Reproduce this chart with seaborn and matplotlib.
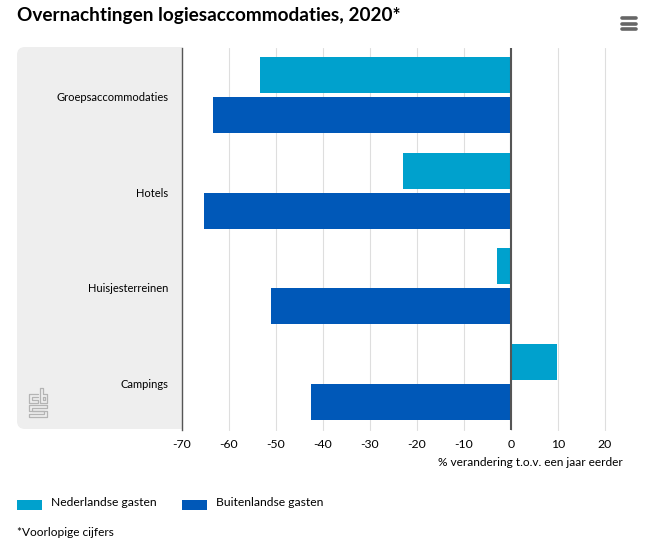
import matplotlib
matplotlib.use("Agg")
import matplotlib.pyplot as plt
import matplotlib.patches as mpatches
from matplotlib.transforms import ScaledTranslation
import pandas as pd
import seaborn as sns

categories = ["Groepsaccommodaties", "Hotels", "Huisjesterreinen", "Campings"]
nederlandse = [-53.4, -23.0, -2.9, 9.8]
buitenlandse = [-63.4, -65.3, -51.0, -42.5]
series_names = ["Nederlandse gasten", "Buitenlandse gasten"]
colors = ["#00a1cd", "#0058b8"]
xticks = [-70, -60, -50, -40, -30, -20, -10, 0, 10, 20]

W, H = 662, 546
sns.set_theme(style="white")
plt.rcParams["font.family"] = ["Lato", "DejaVu Sans"]

df = pd.DataFrame({
    "cat": categories * 2,
    "serie": [series_names[0]] * 4 + [series_names[1]] * 4,
    "val": nederlandse + buitenlandse,
})

fig = plt.figure(figsize=(W / 100, H / 100), dpi=100)

# overlay in pixel coordinates for panel, logo, menu icon and legend
bg = fig.add_axes([0, 0, 1, 1], zorder=0)
bg.set_xlim(0, W)
bg.set_ylim(H, 0)
bg.axis("off")

panel = mpatches.FancyBboxPatch((17, 47), 200, 382, boxstyle="round,pad=0,rounding_size=8",
                                fc="#eeeeee", ec="none")
bg.add_patch(panel)
panel.set_clip_path(mpatches.Rectangle((17, 40), 165, 395, transform=bg.transData))

# plot area
ax = fig.add_axes([182 / W, 1 - 429.5 / H, (605 - 182) / W, 382 / H], zorder=1)
ax.patch.set_alpha(0)
sns.barplot(data=df, y="cat", x="val", hue="serie", palette=colors, order=categories,
            hue_order=series_names, width=0.84, gap=0.1, saturation=1, legend=False,
            linewidth=0, ax=ax, zorder=3)
ax.set_xlim(-70, 20)
ax.set_xticks(xticks)
ax.set_xticklabels([str(t) for t in xticks], fontsize=8.8, color="black")
ax.tick_params(axis="x", length=0, pad=7)
ax.tick_params(axis="y", length=0, pad=10, labelsize=8.0, labelcolor="black")
# category labels sit a little below the band centre
for lab in ax.get_yticklabels():
    lab.set_transform(lab.get_transform() + ScaledTranslation(0, -1.5 / 100, fig.dpi_scale_trans))
ax.set_xlabel("")
ax.set_ylabel("")
ax.grid(axis="x", color="#dedede", linewidth=0.8, zorder=0, clip_on=False)
for side in ["top", "right", "bottom"]:
    ax.spines[side].set_visible(False)
ax.spines["left"].set_color("#555555")
ax.spines["left"].set_linewidth(1)
ax.axvline(0, color="#555555", linewidth=1.5, zorder=4)

bg.text(623, 463, "% verandering t.o.v. een jaar eerder", ha="right", va="center",
        fontsize=8.6, color="black")
bg.text(17, 15, "Overnachtingen logiesaccommodaties, 2020*", ha="left", va="center",
        fontsize=13.7, fontweight="bold", color="black")

# legend
bg.add_patch(mpatches.Rectangle((17, 500), 25, 10, fc=colors[0], ec="none"))
bg.add_patch(mpatches.Rectangle((182, 500), 25, 10, fc=colors[1], ec="none"))
bg.text(51, 503, series_names[0], va="center", fontsize=8.7, color="black")
bg.text(216, 503, series_names[1], va="center", fontsize=8.7, color="black")
bg.text(17, 532, "*Voorlopige cijfers", va="center", fontsize=8.6, color="black")

# menu icon
for y in [18, 23.5, 28.5]:
    bg.plot([622, 636], [y, y], color="#666666", lw=2.6, solid_capstyle="round")

# cbs logo
logo = "#b4b4b4"
logo_paths = [
    ([38, 29, 29, 38, 38, 32, 32, 38], [394, 394, 403, 403, 400, 400, 397, 397]),
    ([40, 43, 43, 47, 47, 40, 40], [388, 388, 394, 394, 403, 403, 388]),
    ([43, 45, 45, 43, 43], [397, 397, 400, 400, 397]),
    ([47, 29, 29, 44, 44, 29, 29, 47, 47, 32, 32, 47, 47],
     [405, 405, 411, 411, 414, 414, 417, 417, 411, 411, 408, 408, 405]),
]
for xs, ys in logo_paths:
    bg.plot(xs, ys, color=logo, lw=0.9)

fig.savefig("out.png", dpi=100)
